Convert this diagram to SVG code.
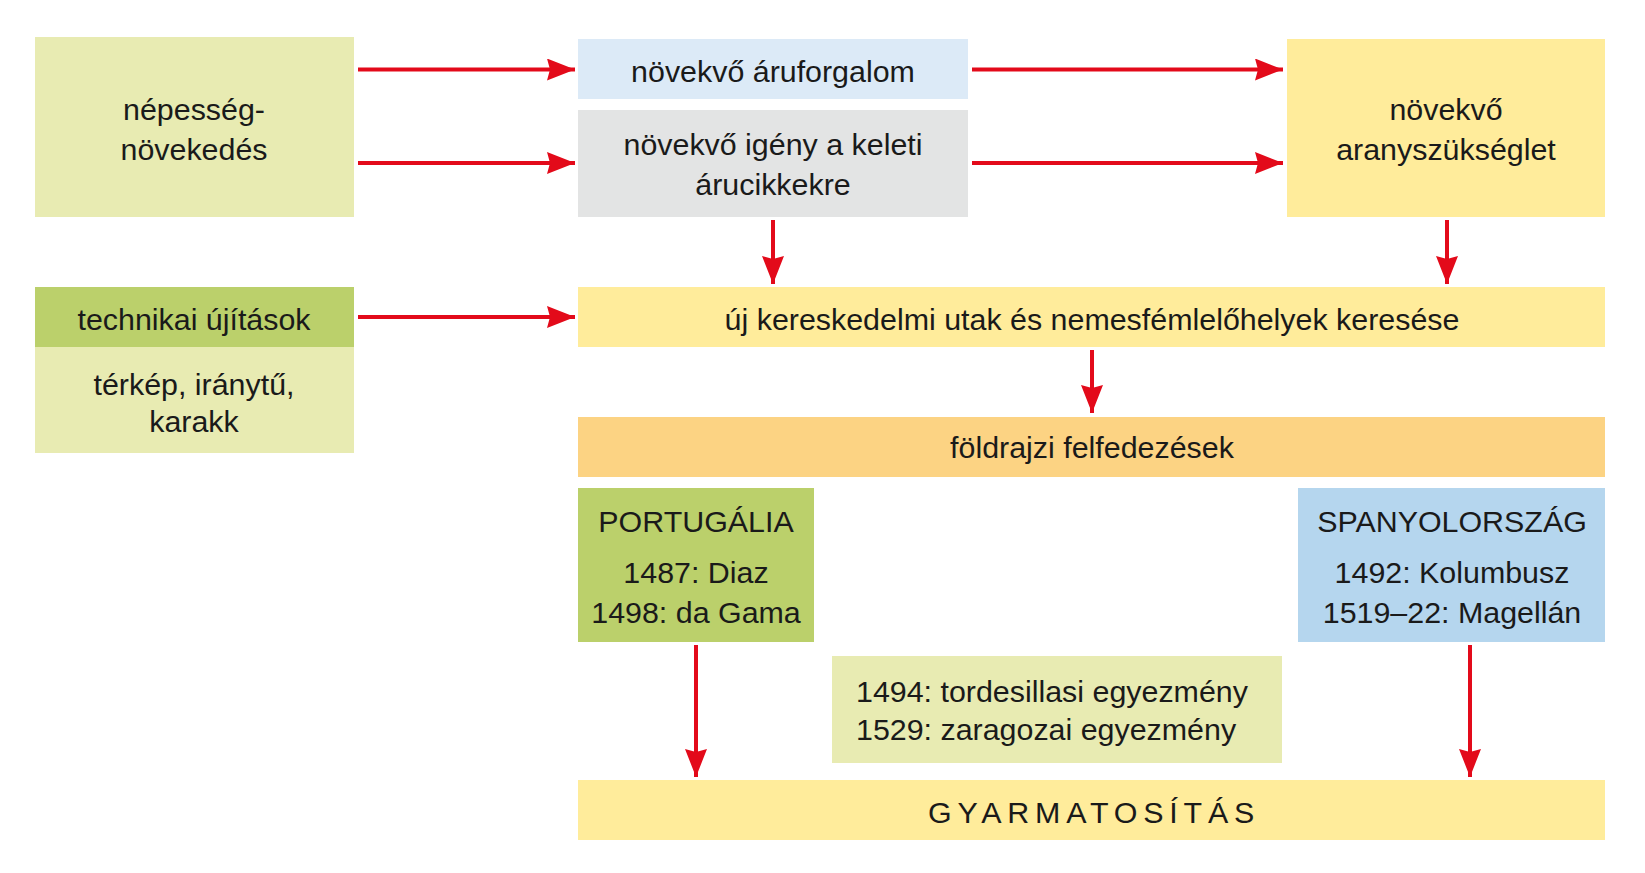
<svg xmlns="http://www.w3.org/2000/svg" width="1645" height="873" viewBox="0 0 1645 873">
<defs>
<style>
text{font-family:"Liberation Sans",Arial,sans-serif;font-size:30.4px;fill:#1a1a1a;text-anchor:middle}
.l{text-anchor:start}
.arr{stroke:#E30A1A;stroke-width:4;fill:none;marker-end:url(#ah)}
.lgy{fill:#E8EBB2}.grn{fill:#BBD06B}.lbl{fill:#DCEAF7}.gry{fill:#E3E4E4}.yel{fill:#FFEC9B}.org{fill:#FCD383}.blu{fill:#B5D6EE}
</style>
<marker id="ah" viewBox="0 0 28 22" markerWidth="28" markerHeight="22" refX="28" refY="11" orient="auto" markerUnits="userSpaceOnUse">
<path d="M0,0 L28,11 L0,22 L3,11 Z" fill="#E30A1A"/>
</marker>
</defs>
<rect width="1645" height="873" fill="#fff"/>
<g id="nepesseg"><rect class="lgy" x="35" y="37" width="319" height="180"/>
<text x="194" y="120">népesség-</text><text x="194" y="160">növekedés</text></g>
<g id="aruforgalom"><rect class="lbl" x="578" y="39" width="390" height="60"/>
<text x="773" y="82">növekvő áruforgalom</text></g>
<g id="igeny"><rect class="gry" x="578" y="110" width="390" height="107"/>
<text x="773" y="155">növekvő igény a keleti</text><text x="773" y="195">árucikkekre</text></g>
<g id="arany"><rect class="yel" x="1287" y="39" width="318" height="178"/>
<text x="1446" y="120">növekvő</text><text x="1446" y="160">aranyszükséglet</text></g>
<g id="technikai"><rect class="grn" x="35" y="287" width="319" height="60"/><rect class="lgy" x="35" y="347" width="319" height="106"/>
<text x="194" y="330">technikai újítások</text><text x="194" y="395">térkép, iránytű,</text><text x="194" y="432">karakk</text></g>
<g id="kereses"><rect class="yel" x="578" y="287" width="1027" height="60"/>
<text x="1092" y="330">új kereskedelmi utak és nemesfémlelőhelyek keresése</text></g>
<g id="felfedezesek"><rect class="org" x="578" y="417" width="1027" height="60"/>
<text x="1092" y="458">földrajzi felfedezések</text></g>
<g id="portugalia"><rect class="grn" x="578" y="488" width="236" height="154"/>
<text x="696" y="532">PORTUGÁLIA</text><text x="696" y="583">1487: Diaz</text><text x="696" y="623">1498: da Gama</text></g>
<g id="spanyol"><rect class="blu" x="1298" y="488" width="307" height="154"/>
<text x="1452" y="532">SPANYOLORSZÁG</text><text x="1452" y="583">1492: Kolumbusz</text><text x="1452" y="623">1519–22: Magellán</text></g>
<g id="egyezmeny"><rect class="lgy" x="832" y="656" width="450" height="107"/>
<text class="l" x="856" y="702">1494: tordesillasi egyezmény</text><text class="l" x="856" y="740">1529: zaragozai egyezmény</text></g>
<g id="gyarmat"><rect class="yel" x="578" y="780" width="1027" height="60"/>
<text x="1094" y="823" style="letter-spacing:5.8px">GYARMATOSÍTÁS</text></g>
<g id="connectors">
<path class="arr" d="M358,69.5 H575"/>
<path class="arr" d="M358,163 H575"/>
<path class="arr" d="M358,317 H575"/>
<path class="arr" d="M972,69.5 H1283"/>
<path class="arr" d="M972,163 H1283"/>
<path class="arr" d="M773,220 V284"/>
<path class="arr" d="M1447,220 V284"/>
<path class="arr" d="M1092,350 V413"/>
<path class="arr" d="M696,645 V777"/>
<path class="arr" d="M1470,645 V777"/>
</g>
</svg>
